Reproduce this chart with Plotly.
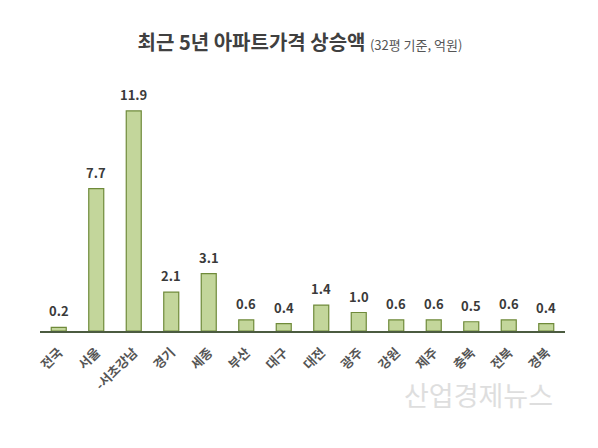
import plotly.graph_objects as go

# 최근 5년 아파트가격 상승액 (32평 기준, 억원)
REGIONS = ['전국', '서울', '-서초강남', '경기', '세종', '부산', '대구',
           '대전', '광주', '강원', '제주', '충북', '전북', '경북']
RISE = [0.2, 7.7, 11.9, 2.1, 3.1, 0.6, 0.4, 1.4, 1.0, 0.6, 0.6, 0.5, 0.6, 0.4]
LABELS = [f"{v:.1f}" for v in RISE]

FONT = "Noto Sans CJK KR"

fig = go.Figure()
fig.add_trace(go.Bar(
    x=REGIONS, y=RISE,
    marker=dict(color='#c3d69b', line=dict(color='#6f8a3a', width=1.2)),
    hoverinfo='skip',
))

# value labels above each bar
for r, v, t in zip(REGIONS, RISE, LABELS):
    fig.add_annotation(
        x=r, y=v, text=f"<b>{t}</b>", showarrow=False,
        yanchor='bottom', yshift=5,
        font=dict(family=FONT, size=13, color='#3a3a3a'),
    )

# watermark
fig.add_annotation(
    xref='paper', yref='paper', x=0.981, y=-0.277,
    text='산업경제뉴스', showarrow=False, xanchor='right', yanchor='middle',
    font=dict(family=FONT, size=27, color='#dedede'),
)

fig.update_xaxes(
    showline=True, linecolor='#4b5b40', linewidth=1.5,
    ticks='', tickangle=-45, automargin=False, ticklabelstandoff=7,
    tickfont=dict(family=FONT, size=13, color='#555555', weight='bold'),
    showgrid=False,
)
fig.update_yaxes(
    range=[0, 12.49], visible=False, showgrid=False, zeroline=False,
    automargin=False,
)
fig.update_layout(
    title=dict(
        text="<b>최근 5년 아파트가격 상승액</b> "
             "<span style='font-size:13px;color:#555'>(32평 기준, 억원)</span>",
        x=(300 - 8) / 598, xanchor='center', y=1 - 35 / 448, yanchor='middle',
        font=dict(family=FONT, size=20, color='#404040'),
    ),
    width=598, height=448,
    margin=dict(l=32, r=41, t=92, b=125),
    bargap=0.6,
    plot_bgcolor='white', paper_bgcolor='white',
    showlegend=False,
)

fig.write_html("out.html")
